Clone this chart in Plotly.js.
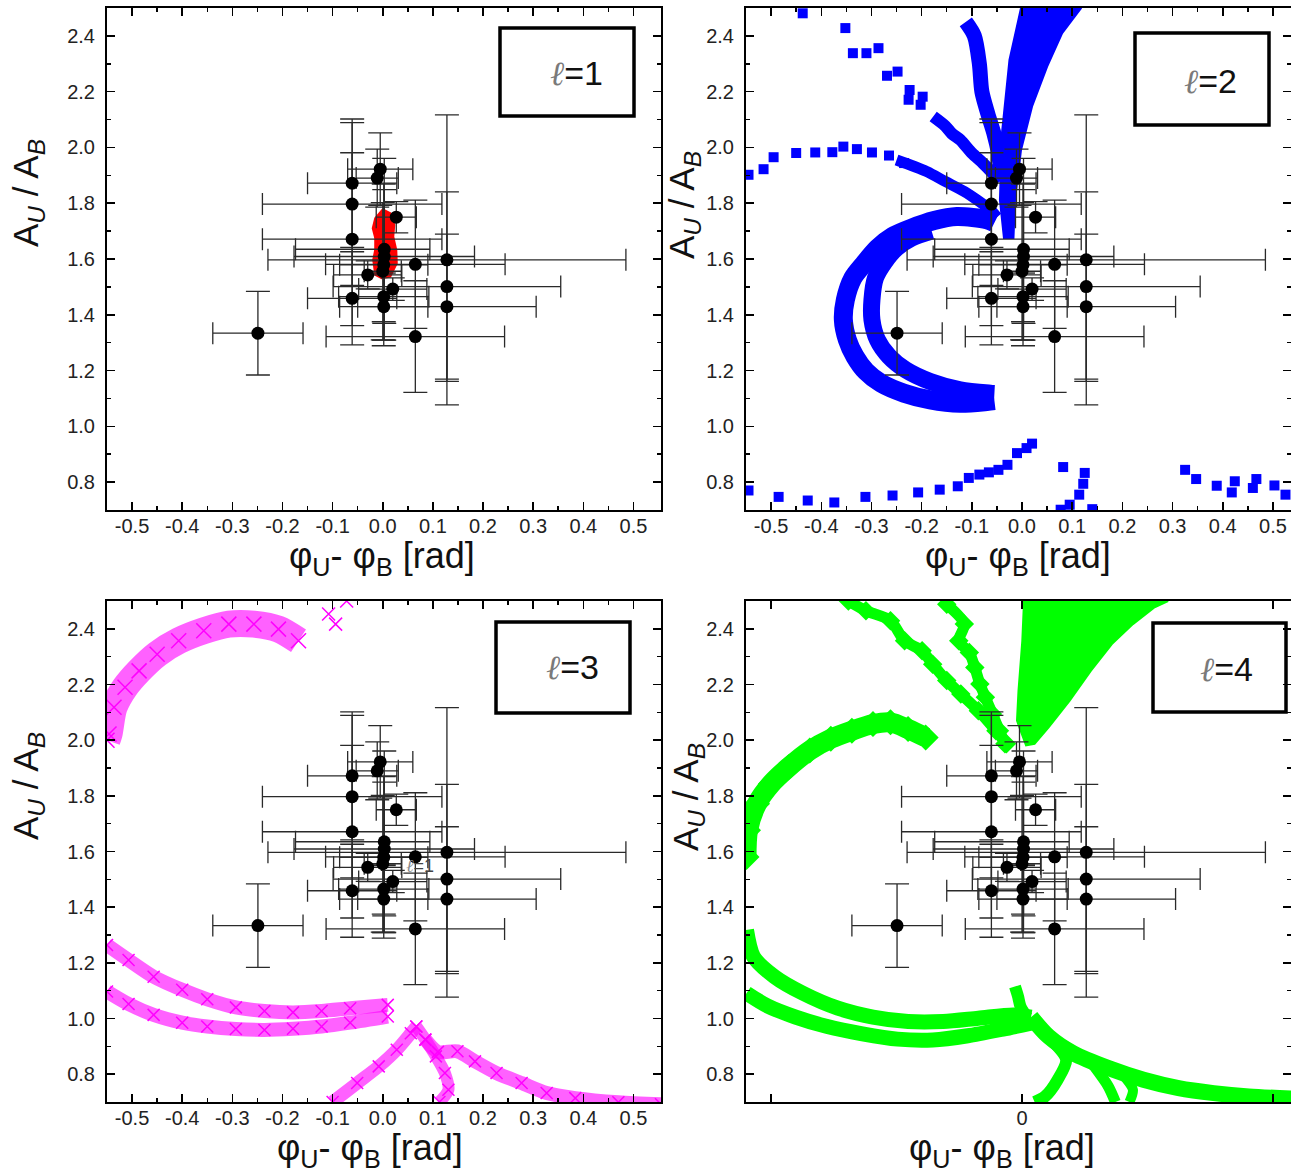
<!DOCTYPE html>
<html>
<head>
<meta charset="utf-8">
<script src="https://cdn.plot.ly/plotly-3.0.1.min.js"></script>
<style>
html,body{margin:0;padding:0;background:#fff;}
#chart{width:1291px;height:1172px;}
</style>
</head>
<body>
<div id="chart"></div>
<script>
// ---------------- Observed data (same in all four panels) ----------------
const obsPhase = [-0.061,-0.061,-0.061,-0.061,-0.005,-0.011,0.027,0.003,0.003,0.002,0.000,0.065,0.128,-0.030,0.020,0.128,0.002,0.002,0.128,-0.249,0.065];
const obsRatio = [1.872,1.797,1.671,1.459,1.922,1.890,1.750,1.635,1.609,1.579,1.556,1.581,1.597,1.543,1.492,1.501,1.465,1.429,1.429,1.334,1.322];
const obsPhaseErrPlus  = [0.089,0.179,0.179,0.089,0.065,0.042,0.040,0.091,0.180,0.088,0.037,0.179,0.357,0.068,0.068,0.227,0.090,0.088,0.178,0.090,0.178];
const obsPhaseErrMinus = [0.089,0.179,0.179,0.089,0.065,0.042,0.040,0.177,0.180,0.088,0.037,0.179,0.357,0.068,0.068,0.227,0.090,0.088,0.178,0.090,0.178];
const obsRatioErr = [0.230,0.292,0.310,0.167,0.130,0.104,0.056,0.326,0.240,0.290,0.246,0.230,0.520,0.050,0.040,0.340,0.090,0.120,0.260,0.150,0.200];

// ---------------- Tick labels ----------------
const xTickVals = [-0.5,-0.4,-0.3,-0.2,-0.1,0,0.1,0.2,0.3,0.4,0.5];
const xTickText = ['-0.5','-0.4','-0.3','-0.2','-0.1','0.0','0.1','0.2','0.3','0.4','0.5'];
const xMinorVals = [-0.55,-0.45,-0.35,-0.25,-0.15,-0.05,0.05,0.15,0.25,0.35,0.45];
const x4TickVals = [-0.5,0,0.5];
const x4TickText = [' ','0',' '];
const yTickVals = [0.8,1.0,1.2,1.4,1.6,1.8,2.0,2.2,2.4];
const yTickText = ['0.8','1.0','1.2','1.4','1.6','1.8','2.0','2.2','2.4'];
const yMinorVals = [0.9,1.1,1.3,1.5,1.7,1.9,2.1,2.3];
const panelLabels = ['=1','=2','=3','=4'];

// ---------------- l=1 model (red region) ----------------
const redRegionX = [0.000,0.015,0.023,0.021,0.027,0.028,0.015,-0.002,-0.015,-0.019,-0.015,-0.015,-0.020,-0.015,0.000];
const redRegionY = [1.778,1.764,1.722,1.680,1.633,1.585,1.537,1.531,1.543,1.597,1.633,1.675,1.710,1.746,1.778];

// ---------------- l=2 model (blue squares) ----------------
const blueArcSparseX = [-0.545,-0.515,-0.495,-0.450,-0.412,-0.378,-0.356,-0.329,-0.299,-0.265,-0.235];
const blueArcSparseY = [1.902,1.922,1.965,1.980,1.982,1.983,2.003,1.994,1.982,1.971,1.944];
const blueArcBandX = [-0.250,-0.190,-0.153,-0.115,-0.085,-0.063,-0.050];
const blueArcBandY = [1.955,1.914,1.878,1.842,1.806,1.776,1.750];
const blueSpraySparseX = [-0.437,-0.352,-0.337,-0.310,-0.286,-0.269,-0.248,-0.224,-0.226,-0.198,-0.202];
const blueSpraySparseY = [2.481,2.428,2.338,2.338,2.356,2.257,2.272,2.206,2.171,2.182,2.153];
const blueSprayBandX = [-0.177,-0.153,-0.140,-0.123,-0.100,-0.078,-0.059,-0.044];
const blueSprayBandY = [2.111,2.077,2.050,2.027,1.980,1.944,1.909,1.878];
const blueStemX = [-0.112,-0.095,-0.085,-0.080,-0.068,-0.056,-0.047,-0.040];
const blueStemY = [2.450,2.400,2.300,2.200,2.120,2.050,1.980,1.880];
const blueFanX = [-0.002,0.118,0.080,0.050,0.020,-0.002,-0.014,-0.017,-0.036,-0.044,-0.040,-0.025,-0.002];
const blueFanY = [2.500,2.500,2.410,2.290,2.147,1.991,1.812,1.675,1.675,1.812,2.051,2.314,2.500];
const blueOuterCX = [-0.055,-0.070,-0.130,-0.175,-0.220,-0.258,-0.288,-0.314,-0.337,-0.352,-0.356,-0.348,-0.333,-0.311,-0.281,-0.235,-0.183,-0.123,-0.070,-0.055];
const blueOuterCY = [1.730,1.741,1.752,1.738,1.711,1.681,1.639,1.585,1.532,1.454,1.382,1.310,1.251,1.197,1.155,1.119,1.095,1.083,1.089,1.092];
const blueInnerCX = [-0.180,-0.220,-0.250,-0.273,-0.292,-0.299,-0.299,-0.288,-0.265,-0.232,-0.183,-0.123,-0.063,-0.055];
const blueInnerCY = [1.700,1.675,1.639,1.591,1.532,1.454,1.382,1.310,1.251,1.203,1.161,1.131,1.119,1.118];
const blueLowX = [-0.545,-0.485,-0.427,-0.374,-0.312,-0.258,-0.207,-0.164,-0.128,-0.106,-0.085,-0.066,-0.047,-0.029,-0.010,0.009,0.020,
                  0.082,0.125,0.122,0.114,0.095,0.077,0.140,
                  0.325,0.347,0.388,0.418,0.424,0.460,0.467,0.503,0.525];
const blueLowY = [0.770,0.747,0.734,0.727,0.747,0.752,0.763,0.773,0.785,0.815,0.827,0.835,0.844,0.862,0.904,0.922,0.938,
                  0.854,0.833,0.794,0.755,0.719,0.701,0.703,
                  0.844,0.811,0.787,0.763,0.803,0.779,0.811,0.788,0.755];

// ---------------- l=3 model (magenta crosses) ----------------
const magTopArcX = [-0.550,-0.546,-0.536,-0.514,-0.486,-0.450,-0.407,-0.357,-0.307,-0.257,-0.208,-0.168];
const magTopArcY = [2.000,2.022,2.118,2.190,2.249,2.309,2.357,2.393,2.417,2.417,2.399,2.357];
const magTopBitX = [-0.094,-0.108,-0.072];
const magTopBitY = [2.417,2.453,2.500];
const magUpperBandX = [-0.550,-0.507,-0.457,-0.400,-0.350,-0.293,-0.236,-0.179,-0.122,-0.065,0.010];
const magUpperBandY = [1.264,1.210,1.150,1.103,1.069,1.040,1.027,1.022,1.027,1.037,1.049];
const magLowerBandX = [-0.550,-0.507,-0.457,-0.400,-0.350,-0.293,-0.236,-0.179,-0.122,-0.065,0.010];
const magLowerBandY = [1.097,1.052,1.013,0.985,0.971,0.962,0.959,0.963,0.971,0.985,1.007];
const magRiseX = [-0.100,-0.051,-0.008,0.028,0.056,0.067];
const magRiseY = [0.700,0.768,0.828,0.888,0.947,0.971];
const magFallX = [0.067,0.085,0.106,0.124,0.131,0.113];
const magFallY = [0.971,0.924,0.864,0.804,0.744,0.700];
const magTailX = [0.085,0.110,0.149,0.184,0.227,0.277,0.327,0.384,0.470,0.555];
const magTailY = [0.924,0.880,0.882,0.846,0.804,0.768,0.732,0.714,0.699,0.692];

// ---------------- l=4 model (green diamonds) ----------------
const greenArcX = [-0.549,-0.546,-0.528,-0.500,-0.465,-0.423,-0.381,-0.339,-0.297,-0.262,-0.227,-0.192];
const greenArcY = [1.580,1.676,1.772,1.843,1.903,1.963,2.005,2.034,2.058,2.064,2.040,2.010];
const greenRayAX = [-0.346,-0.311,-0.262,-0.234,-0.199,-0.178,-0.150,-0.122,-0.087,-0.052,-0.031];
const greenRayAY = [2.500,2.465,2.429,2.357,2.321,2.273,2.214,2.166,2.106,2.034,1.987];
const greenRayBX = [-0.150,-0.115,-0.126,-0.105,-0.094,-0.084,-0.073,-0.059,-0.045,-0.034];
const greenRayBY = [2.488,2.417,2.357,2.315,2.261,2.202,2.154,2.094,2.034,1.987];
const greenFanX = [0.004,0.291,0.263,0.221,0.179,0.137,0.095,0.053,0.025,0.008,-0.010,-0.007,0.0006,0.004];
const greenFanY = [2.500,2.500,2.476,2.417,2.345,2.249,2.142,2.046,1.987,1.981,2.070,2.178,2.357,2.500];
const greenUpperBandX = [-0.549,-0.535,-0.493,-0.437,-0.367,-0.297,-0.227,-0.157,-0.087,-0.017,0.018];
const greenUpperBandY = [1.318,1.222,1.150,1.091,1.037,1.005,0.989,0.989,1.001,1.013,1.005];
const greenLowerBandX = [-0.549,-0.507,-0.451,-0.388,-0.318,-0.248,-0.178,-0.108,-0.038,0.018];
const greenLowerBandY = [1.091,1.045,1.005,0.971,0.945,0.926,0.923,0.938,0.962,0.983];
const greenSpikeX = [-0.014,-0.008,-0.003,0.010];
const greenSpikeY = [1.115,1.080,1.043,1.005];
const greenTailX = [0.018,0.053,0.102,0.172,0.242,0.312,0.382,0.452,0.540];
const greenTailY = [1.005,0.935,0.875,0.822,0.780,0.750,0.732,0.720,0.712];
const greenBranch1X = [0.060,0.088,0.071,0.046,0.025];
const greenBranch1Y = [0.920,0.852,0.780,0.720,0.700];
const greenBranch2X = [0.130,0.144,0.172,0.186];
const greenBranch2Y = [0.860,0.828,0.756,0.700];
const greenBranch3X = [0.200,0.221,0.214];
const greenBranch3Y = [0.800,0.744,0.700];

// ---------------- helpers ----------------
const W = 1291, H = 1172;
const FONT = 'Liberation Sans, Arial, sans-serif';
const fx = p => p / W;
const fy = p => 1 - p / H;
const AX = [['x','y'],['x2','y2'],['x3','y3'],['x4','y4']];

function bandTrace(p, xs, ys, color, w) {
  return {type:'scatter', mode:'lines', x:xs, y:ys, xaxis:AX[p][0], yaxis:AX[p][1],
          line:{color:color, width:w, shape:'spline', smoothing:0.8}, hoverinfo:'skip', showlegend:false};
}
function markerTrace(p, xs, ys, color, symbol, size) {
  return {type:'scatter', mode:'markers', x:xs, y:ys, xaxis:AX[p][0], yaxis:AX[p][1],
          marker:{color:color, symbol:symbol, size:size, line:{width:0}}, hoverinfo:'skip', showlegend:false};
}
function crossTrace(p, xs, ys, color, size) {
  return {type:'scatter', mode:'markers', x:xs, y:ys, xaxis:AX[p][0], yaxis:AX[p][1],
          marker:{color:color, symbol:'x-thin-open', size:size, line:{width:1.5, color:color}}, hoverinfo:'skip', showlegend:false};
}
function polyTrace(p, xs, ys, color) {
  return {type:'scatter', mode:'lines', x:xs, y:ys, xaxis:AX[p][0], yaxis:AX[p][1], fill:'toself',
          fillcolor:color, line:{color:color, width:2}, hoverinfo:'skip', showlegend:false};
}
function obsTrace(p) {
  return {type:'scatter', mode:'markers', x:obsPhase, y:obsRatio, xaxis:AX[p][0], yaxis:AX[p][1],
    marker:{color:'#000', size:13, line:{width:0}},
    error_x:{type:'data', symmetric:false, array:obsPhaseErrPlus, arrayminus:obsPhaseErrMinus, color:'#2a2a2a', thickness:1.3, width:11},
    error_y:{type:'data', array:obsRatioErr, color:'#2a2a2a', thickness:1.3, width:12},
    hoverinfo:'skip', showlegend:false};
}

const BLUE = '#0000ff', MAG = '#ff00ff', MAGBAND = 'rgba(255,0,255,0.62)', GREEN = '#00ff00', RED = '#ff0000';

const traces = [];
// panel 1
traces.push(polyTrace(0, redRegionX, redRegionY, RED));
// panel 2
traces.push(markerTrace(1, blueArcSparseX, blueArcSparseY, BLUE, 'square', 10));
traces.push(bandTrace(1, blueArcBandX, blueArcBandY, BLUE, 11));
traces.push(markerTrace(1, blueSpraySparseX, blueSpraySparseY, BLUE, 'square', 10));
traces.push(bandTrace(1, blueSprayBandX, blueSprayBandY, BLUE, 12));
traces.push(bandTrace(1, blueStemX, blueStemY, BLUE, 15));
traces.push(polyTrace(1, blueFanX, blueFanY, BLUE));
traces.push(bandTrace(1, blueOuterCX, blueOuterCY, BLUE, 19));
traces.push(bandTrace(1, blueInnerCX, blueInnerCY, BLUE, 17));
traces.push(markerTrace(1, blueLowX, blueLowY, BLUE, 'square', 10));
// panel 3
traces.push(bandTrace(2, magTopArcX, magTopArcY, MAGBAND, 27));
traces.push(crossTrace(2, magTopArcX, magTopArcY, MAG, 15));
traces.push(crossTrace(2, magTopBitX, magTopBitY, MAG, 13));
traces.push(bandTrace(2, magUpperBandX, magUpperBandY, MAGBAND, 14));
traces.push(crossTrace(2, magUpperBandX, magUpperBandY, MAG, 12));
traces.push(bandTrace(2, magLowerBandX, magLowerBandY, MAGBAND, 14));
traces.push(crossTrace(2, magLowerBandX, magLowerBandY, MAG, 12));
traces.push(bandTrace(2, magRiseX, magRiseY, MAGBAND, 13));
traces.push(bandTrace(2, magFallX, magFallY, MAGBAND, 12));
traces.push(bandTrace(2, magTailX, magTailY, MAGBAND, 14));
traces.push(crossTrace(2, magRiseX.concat(magFallX, magTailX), magRiseY.concat(magFallY, magTailY), MAG, 12));
// panel 4
traces.push(bandTrace(3, greenArcX, greenArcY, GREEN, 20));
traces.push(markerTrace(3, greenArcX, greenArcY, GREEN, 'diamond', 20));
traces.push(bandTrace(3, greenRayAX, greenRayAY, GREEN, 11));
traces.push(markerTrace(3, greenRayAX, greenRayAY, GREEN, 'diamond', 15));
traces.push(bandTrace(3, greenRayBX, greenRayBY, GREEN, 11));
traces.push(markerTrace(3, greenRayBX, greenRayBY, GREEN, 'diamond', 15));
traces.push(polyTrace(3, greenFanX, greenFanY, GREEN));
traces.push(bandTrace(3, greenUpperBandX, greenUpperBandY, GREEN, 15));
traces.push(bandTrace(3, greenLowerBandX, greenLowerBandY, GREEN, 15));
traces.push(bandTrace(3, greenSpikeX, greenSpikeY, GREEN, 12));
traces.push(bandTrace(3, greenTailX, greenTailY, GREEN, 16));
traces.push(bandTrace(3, greenBranch1X, greenBranch1Y, GREEN, 12));
traces.push(bandTrace(3, greenBranch2X, greenBranch2Y, GREEN, 11));
traces.push(bandTrace(3, greenBranch3X, greenBranch3Y, GREEN, 10));
// observations on top
for (let p = 0; p < 4; p++) traces.push(obsTrace(p));

// ---------------- axes ----------------
function xAxis(dom, anchor, range, vals, text, minor) {
  const a = {domain:dom, anchor:anchor, range:range, tickmode:'array', tickvals:vals, ticktext:text,
    ticks:'inside', ticklen:8, tickwidth:1.5, tickcolor:'#000', showline:true, linecolor:'#000', linewidth:2,
    mirror:'ticks', showgrid:false, zeroline:false, ticklabelstandoff:-3,
    tickfont:{family:FONT, size:20, color:'#222'}, fixedrange:true};
  if (minor) a.minor = {tickmode:'array', tickvals:minor, ticks:'inside', ticklen:4, tickwidth:1.5, tickcolor:'#000'};
  return a;
}
function yAxis(dom, anchor) {
  return {domain:dom, anchor:anchor, range:[0.7,2.5], tickmode:'array', tickvals:yTickVals, ticktext:yTickText,
    ticks:'inside', ticklen:8, tickwidth:1.5, tickcolor:'#000', showline:true, linecolor:'#000', linewidth:2,
    mirror:'ticks', showgrid:false, zeroline:false, ticklabelstandoff:6,
    tickfont:{family:FONT, size:20, color:'#222'}, fixedrange:true,
    minor:{tickmode:'array', tickvals:yMinorVals, ticks:'inside', ticklen:4, tickwidth:1.5, tickcolor:'#000'}};
}
const leftDom = [fx(107), fx(661)];
const rightDom = [fx(746), 1];
const topDom = [fy(510), fy(8)];
const botDom = [fy(1102), fy(601)];

// ---------------- annotations & boxes ----------------
const boxes = [[500,28,634,116],[1135,33,1269,125],[496,622,630,713],[1153,623,1286,712]];
const labelPos = [[576,73],[1210,81],[572,667],[1226,669]];
const yTitlePos = [[28,193],[684,205],[28,786],[688,797]];
const xTitlePos = [[382,558],[1018,558],[370,1150],[1002,1150]];

const shapes = boxes.map(b => ({type:'rect', xref:'paper', yref:'paper', x0:fx(b[0]), x1:fx(b[2]), y0:fy(b[3]), y1:fy(b[1]),
  line:{color:'#000', width:3.5}, fillcolor:'rgba(0,0,0,0)'}));

const annotations = [];
for (let p = 0; p < 4; p++) {
  annotations.push({xref:'paper', yref:'paper', x:fx(labelPos[p][0]), y:fy(labelPos[p][1]), xanchor:'center', yanchor:'middle', showarrow:false,
    text:'<span style="color:#7a7a7a;font-family:DejaVu Serif;font-style:italic">ℓ</span>' + panelLabels[p],
    font:{family:FONT, size:34, color:'#111'}});
  annotations.push({xref:'paper', yref:'paper', x:fx(yTitlePos[p][0]), y:fy(yTitlePos[p][1]), xanchor:'center', yanchor:'middle', showarrow:false,
    textangle:-90, text:'A<sub><i>U</i></sub> / A<sub><i>B</i></sub>', font:{family:FONT, size:35, color:'#111'}});
  annotations.push({xref:'paper', yref:'paper', x:fx(xTitlePos[p][0]), y:fy(xTitlePos[p][1]), xanchor:'center', yanchor:'middle', showarrow:false,
    text:'φ<sub>U</sub>- φ<sub>B</sub> [rad]', font:{family:FONT, size:36, color:'#111'}});
}
// stray small label in the l=3 panel
annotations.push({xref:'paper', yref:'paper', x:fx(420), y:fy(865), xanchor:'center', yanchor:'middle', showarrow:false,
  text:'<span style="color:#8a8a8a;font-family:DejaVu Serif;font-style:italic">ℓ</span>=1', font:{family:FONT, size:18, color:'#444'}});

const layout = {
  width:W, height:H, margin:{l:0, r:0, t:0, b:0}, paper_bgcolor:'#fff', plot_bgcolor:'#fff', showlegend:false,
  font:{family:FONT},
  xaxis: xAxis(leftDom, 'y', [-0.55,0.555], xTickVals, xTickText, xMinorVals),
  yaxis: yAxis(topDom, 'x'),
  xaxis2: xAxis(rightDom, 'y2', [-0.55,0.536], xTickVals, xTickText, xMinorVals),
  yaxis2: yAxis(topDom, 'x2'),
  xaxis3: xAxis(leftDom, 'y3', [-0.55,0.555], xTickVals, xTickText, xMinorVals),
  yaxis3: yAxis(botDom, 'x3'),
  xaxis4: xAxis(rightDom, 'y4', [-0.55,0.536], x4TickVals, x4TickText, null),
  yaxis4: yAxis(botDom, 'x4'),
  shapes: shapes,
  annotations: annotations
};

Plotly.newPlot('chart', traces, layout, {displayModeBar:false, staticPlot:true});
</script>
</body>
</html>
